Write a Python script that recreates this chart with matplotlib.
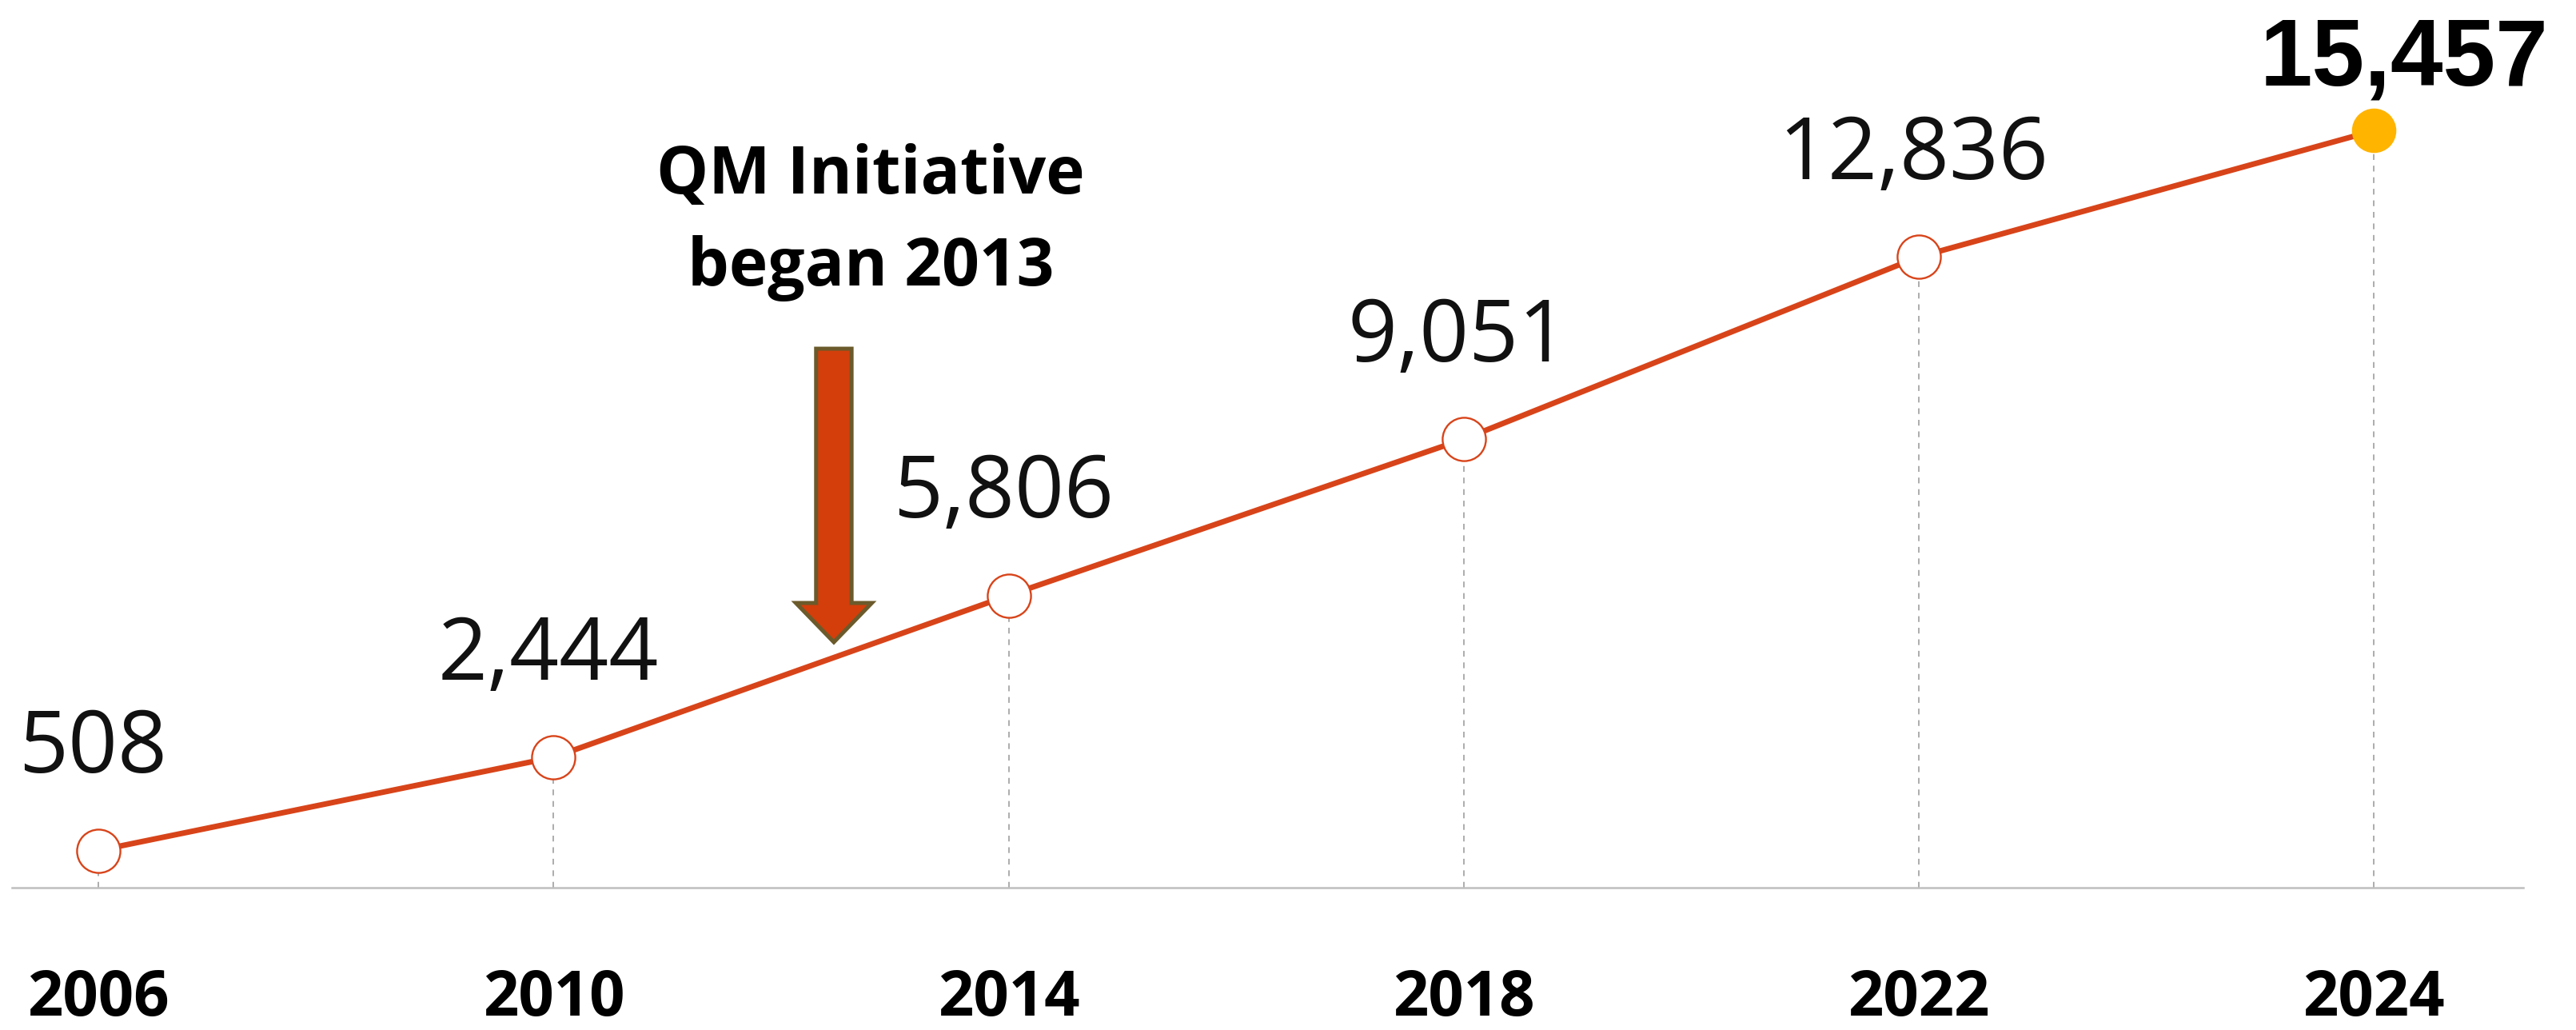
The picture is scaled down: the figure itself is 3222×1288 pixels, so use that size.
import matplotlib.pyplot as plt
from matplotlib.patches import FancyArrow

# yearly totals
years = ["2006", "2010", "2014", "2018", "2022", "2024"]
totals = [508, 2444, 5806, 9051, 12836, 15457]
labels = ["508", "2,444", "5,806", "9,051", "12,836", "15,457"]

line_color = "#D8441A"
gold = "#FFB400"

plt.rcParams["font.family"] = ["Open Sans", "DejaVu Sans"]

fig = plt.figure(figsize=(32.22, 12.88), dpi=100)
ax = fig.add_axes([0.00466, 0.1382, 0.97486, 0.8618])
ax.set_xlim(-0.19, 5.3285)
ax.set_ylim(-264, 18172)

x = list(range(len(years)))

# dashed drop lines from each point to the baseline
ax.vlines(x, -264, totals, colors="#A6A6A6", linestyles=(0, (4, 4)), linewidth=1.3, zorder=1)

# main line with hollow markers, last point highlighted
ax.plot(x, totals, color=line_color, linewidth=5, zorder=2)
ax.plot(x[:-1], totals[:-1], "o", markersize=39, markerfacecolor="white",
        markeredgecolor=line_color, markeredgewidth=1.7, zorder=3)
ax.plot(x[-1:], totals[-1:], "o", markersize=39, markerfacecolor=gold,
        markeredgecolor=gold, zorder=3)

# value labels
for xi, v, lab in zip(x[:-1], totals[:-1], labels[:-1]):
    ax.annotate(lab, (xi, v), xytext=(-5, 70), textcoords="offset points",
                ha="center", va="baseline", fontsize=78, color="#111111")
ax.annotate(labels[-1], (x[-1], totals[-1]), xytext=(27, 41), textcoords="offset points",
            ha="center", va="baseline", fontsize=85, fontweight="bold",
            family=["Liberation Sans", "DejaVu Sans"], color="black")

# initiative arrow and note
ax.add_patch(FancyArrow(1.616, 10930, 0, -6095, width=0.078, head_width=0.167,
                        head_length=814, length_includes_head=True,
                        facecolor="#D33E0A", edgecolor="#6B5A2B", linewidth=3.6, zorder=4))
fig.text(1089 / 3222, 1 - 242 / 1288, "QM Initiative", ha="center", va="baseline",
         fontsize=59, fontweight="bold")
fig.text(1089 / 3222, 1 - 357 / 1288, "began 2013", ha="center", va="baseline",
         fontsize=59, fontweight="bold")

ax.set_xticks(x, years, fontweight="bold")
ax.tick_params(axis="x", length=0, pad=72, labelsize=56)
ax.set_yticks([])
for s in ["top", "right", "left"]:
    ax.spines[s].set_visible(False)
ax.spines["bottom"].set_color("#BFBFBF")
ax.spines["bottom"].set_linewidth(1.8)

fig.savefig("out.png", dpi=100)
